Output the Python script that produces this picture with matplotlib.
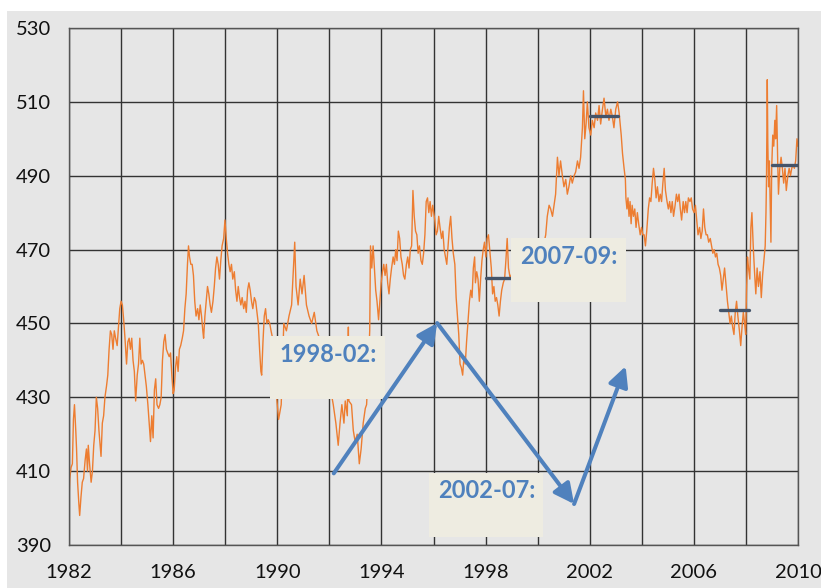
import numpy as np
import matplotlib
matplotlib.use("Agg")
import matplotlib.pyplot as plt
from matplotlib.patches import Rectangle

plt.rcParams['font.family'] = ['Lato', 'DejaVu Sans']

# ---------------------------------------------------------------
# series (decimal year, value)
# ---------------------------------------------------------------
year = [
    1982.00, 1982.03, 1982.08, 1982.13, 1982.17, 1982.21, 1982.26, 1982.29, 1982.33, 1982.38,
    1982.41, 1982.46, 1982.51, 1982.56, 1982.62, 1982.67, 1982.71, 1982.74, 1982.79, 1982.85,
    1982.90, 1982.95, 1983.00, 1983.05, 1983.10, 1983.15, 1983.21, 1983.23, 1983.28, 1983.33,
    1983.38, 1983.44, 1983.49, 1983.54, 1983.59, 1983.64, 1983.69, 1983.74, 1983.79, 1983.85,
    1983.90, 1983.95, 1984.00, 1984.05, 1984.10, 1984.15, 1984.21, 1984.26, 1984.31, 1984.36,
    1984.41, 1984.46, 1984.51, 1984.56, 1984.62, 1984.67, 1984.72, 1984.77, 1984.82, 1984.87,
    1984.92, 1984.97, 1985.03, 1985.08, 1985.13, 1985.18, 1985.23, 1985.28, 1985.33, 1985.38,
    1985.44, 1985.49, 1985.54, 1985.59, 1985.64, 1985.69, 1985.74, 1985.79, 1985.85, 1985.90,
    1985.95, 1986.00,
    1986.04, 1986.09, 1986.14, 1986.19, 1986.24, 1986.29, 1986.35, 1986.40, 1986.45, 1986.50,
    1986.55, 1986.59, 1986.63, 1986.68, 1986.73, 1986.78, 1986.83, 1986.88, 1986.94, 1986.99,
    1987.04, 1987.09, 1987.14, 1987.17, 1987.22, 1987.27, 1987.32, 1987.37, 1987.42, 1987.47,
    1987.53, 1987.58, 1987.63, 1987.68, 1987.73, 1987.78, 1987.83, 1987.88, 1987.94, 1987.99,
    1988.04, 1988.09, 1988.14, 1988.19, 1988.24, 1988.29, 1988.35, 1988.40, 1988.45, 1988.50,
    1988.55, 1988.60, 1988.65, 1988.71, 1988.76, 1988.81, 1988.86, 1988.91, 1988.96, 1989.01,
    1989.06, 1989.12, 1989.17, 1989.22, 1989.27, 1989.32, 1989.37, 1989.40, 1989.45, 1989.50,
    1989.55, 1989.60, 1989.65, 1989.71, 1989.76, 1989.85, 1989.95, 1990.05, 1990.15, 1990.25,
    1990.35, 1990.45, 1990.55, 1990.67, 1990.72, 1990.80, 1990.88, 1990.95, 1991.03, 1991.12,
    1991.22, 1991.32, 1991.42, 1991.52, 1991.62, 1991.72, 1991.82, 1991.92, 1992.02, 1992.10,
    1992.15, 1992.25, 1992.34, 1992.41, 1992.48, 1992.56, 1992.61, 1992.69, 1992.73, 1992.75,
    1992.85, 1992.92, 1992.99, 1993.07, 1993.15, 1993.22, 1993.30, 1993.38, 1993.43, 1993.49,
    1993.55, 1993.58, 1993.63, 1993.68, 1993.73, 1993.78, 1993.83, 1993.89, 1993.94, 1993.99,
    1994.04, 1994.09, 1994.14, 1994.19, 1994.24, 1994.29, 1994.34, 1994.39, 1994.45, 1994.50,
    1994.55, 1994.60, 1994.65, 1994.70, 1994.75, 1994.80, 1994.85, 1994.90, 1994.96, 1995.01,
    1995.06, 1995.11, 1995.16, 1995.21, 1995.26, 1995.31, 1995.36, 1995.41, 1995.46, 1995.52,
    1995.57, 1995.62, 1995.67, 1995.72, 1995.77, 1995.82, 1995.87, 1995.92, 1995.97,
    1996.05, 1996.10, 1996.15, 1996.20, 1996.25, 1996.31, 1996.36, 1996.41, 1996.46, 1996.51,
    1996.56, 1996.61, 1996.66, 1996.71, 1996.76, 1996.82, 1996.87, 1996.92, 1996.97, 1997.02,
    1997.07, 1997.12, 1997.17, 1997.22, 1997.27, 1997.32, 1997.38, 1997.43, 1997.48, 1997.53,
    1997.58, 1997.61, 1997.66, 1997.71, 1997.76, 1997.81, 1997.86, 1997.91, 1997.96, 1998.01,
    1998.06, 1998.11, 1998.17, 1998.22, 1998.27, 1998.32, 1998.37, 1998.42, 1998.47, 1998.52,
    1998.57, 1998.62, 1998.68, 1998.73, 1998.78, 1998.83, 1998.88, 1998.95, 1999.10, 1999.30,
    1999.50, 1999.70, 1999.90, 2000.10, 2000.25, 2000.31, 2000.37, 2000.44, 2000.50, 2000.57,
    2000.63, 2000.69, 2000.76, 2000.82, 2000.88, 2000.95, 2001.01, 2001.08, 2001.14, 2001.20,
    2001.27, 2001.33, 2001.40, 2001.46, 2001.53, 2001.59, 2001.65, 2001.72, 2001.76, 2001.81,
    2001.86, 2001.91, 2001.97, 2002.04, 2002.10, 2002.17, 2002.23, 2002.30, 2002.36, 2002.42,
    2002.49, 2002.55, 2002.62, 2002.68, 2002.74, 2002.81, 2002.87, 2002.93, 2003.00, 2003.07,
    2003.13, 2003.21, 2003.26, 2003.32, 2003.37, 2003.39, 2003.43, 2003.47, 2003.51, 2003.55,
    2003.59, 2003.63, 2003.68, 2003.73, 2003.78, 2003.83, 2003.88, 2003.94, 2003.99, 2004.04,
    2004.09, 2004.14, 2004.19, 2004.25, 2004.30, 2004.35, 2004.40, 2004.45, 2004.50, 2004.55,
    2004.60, 2004.66, 2004.71, 2004.76, 2004.81, 2004.86, 2004.91, 2004.97, 2005.02, 2005.07,
    2005.12, 2005.17, 2005.22, 2005.28, 2005.33, 2005.38, 2005.43, 2005.48, 2005.53, 2005.59,
    2005.64, 2005.69, 2005.74, 2005.79, 2005.85, 2005.90, 2005.95, 2006.01, 2006.06, 2006.11,
    2006.16, 2006.22, 2006.27, 2006.32, 2006.37, 2006.42, 2006.47, 2006.52, 2006.57, 2006.63,
    2006.68, 2006.73, 2006.78, 2006.83, 2006.88, 2006.93, 2006.98, 2007.03, 2007.08, 2007.13,
    2007.18, 2007.24, 2007.29, 2007.34, 2007.39, 2007.44, 2007.49, 2007.54, 2007.59, 2007.64,
    2007.69, 2007.75, 2007.80, 2007.85, 2007.90, 2007.95, 2007.99, 2008.02, 2008.06, 2008.10,
    2008.15, 2008.19, 2008.23, 2008.28, 2008.33, 2008.38, 2008.43, 2008.48, 2008.54, 2008.59,
    2008.64, 2008.69, 2008.74, 2008.77, 2008.79, 2008.82, 2008.84, 2008.87, 2008.90, 2008.93,
    2008.96, 2008.99, 2009.03, 2009.07, 2009.11, 2009.14, 2009.18, 2009.22, 2009.25, 2009.30,
    2009.35, 2009.40, 2009.45, 2009.50, 2009.55, 2009.61, 2009.66, 2009.71, 2009.76, 2009.81,
    2009.86, 2009.91, 2009.96, 2010.00,
]

value = [
    402, 408, 411, 412, 424, 428, 421, 416, 407, 401,
    398, 403, 407, 408, 413, 416, 410, 417, 412, 407,
    410, 417, 421, 430, 427, 421, 416, 414, 423, 425,
    430, 433, 436, 443, 448, 447, 443, 448, 446, 444,
    449, 454, 456, 455, 451, 446, 439, 445, 446, 443,
    446, 440, 437, 429, 436, 439, 446, 439, 440, 439,
    436, 433, 428, 423, 418, 425, 419, 432, 435, 428,
    427, 428, 430, 440, 445, 447, 443, 442, 441, 442,
    436, 431,
    432, 438, 441, 437, 443, 444, 446, 448, 454, 458,
    466, 471, 468, 466, 466, 463, 456, 452, 454, 451,
    455, 452, 448, 446, 452, 456, 460, 458, 455, 453,
    456, 460, 465, 468, 466, 462, 467, 471, 473, 478,
    473, 469, 466, 464, 466, 462, 464, 459, 456, 460,
    457, 455, 457, 454, 456, 453, 459, 461, 459, 456,
    454, 457, 456, 453, 450, 443, 437, 436, 445, 452,
    454, 450, 451, 450, 448, 445, 432, 424, 428, 450,
    448, 452, 455, 472, 460, 455, 462, 458, 463, 455,
    452, 450, 453, 448, 446, 440, 436, 432, 434, 430,
    428, 423, 417, 423, 428, 423, 429, 425, 449, 429,
    428, 421, 418, 420, 412, 416, 423, 427, 428, 437,
    448, 471, 465, 471, 465, 459, 456, 451, 456, 461,
    464, 466, 463, 466, 461, 458, 462, 465, 468, 466,
    470, 467, 475, 473, 468, 466, 463, 462, 466, 468,
    465, 470, 471, 486, 479, 475, 474, 469, 471, 467,
    466, 469, 474, 483, 484, 480, 483, 479, 482,
    478, 474, 475, 479, 476, 473, 475, 470, 468, 466,
    471, 476, 479, 473, 469, 466, 457, 452, 447, 439,
    438, 436, 441, 439, 445, 450, 456, 459, 457, 465,
    468, 461, 464, 462, 456, 462, 467, 470, 472, 468,
    473, 474, 469, 465, 458, 460, 456, 457, 455, 452,
    456, 459, 461, 462, 467, 473, 465, 462, 466, 463,
    467, 465, 470, 468, 472, 474, 479, 482, 481, 479,
    482, 485, 495, 490, 494, 490, 487, 489, 485, 487,
    490, 488, 490, 491, 494, 492, 495, 503, 513, 500,
    504, 510, 503, 501, 505, 503, 507, 505, 509, 504,
    508, 511, 506, 508, 505, 508, 506, 503, 508, 510,
    507, 501, 496, 492, 489, 484, 481, 484, 479, 483,
    477, 482, 479, 481, 476, 480, 477, 474, 476, 474,
    474, 471, 475, 481, 484, 483, 488, 492, 489, 484,
    487, 483, 485, 483, 488, 492, 486, 483, 481, 483,
    480, 483, 479, 482, 485, 483, 485, 481, 478, 483,
    480, 483, 480, 484, 483, 484, 481, 480, 482, 478,
    474, 476, 473, 475, 481, 476, 474, 474, 472, 473,
    471, 469, 470, 468, 469, 466, 465, 463, 459, 462,
    465, 460, 456, 453, 450, 452, 449, 447, 453, 456,
    452, 448, 444, 449, 453, 450, 447, 458, 468, 465,
    462, 476, 480, 471, 464, 458, 465, 460, 464, 457,
    463, 467, 471, 480, 489, 516, 499, 487, 494, 483,
    472, 492, 501, 498, 505, 500, 509, 494, 485, 492,
    495, 492, 488, 492, 486, 490, 492, 490, 492, 493,
    492, 494, 500, 498,
]

# period averages (dark bars)
avg_start = [1998.0, 2002.0, 2007.0, 2009.0]
avg_end = [1999.1, 2003.1, 2008.1, 2010.0]
avg_level = [462.2, 506.2, 453.7, 493.0]

# label boxes
box_labels = ['1998-02:', '2002-07:', '2007-09:']

x_ticks = list(range(1982, 2011, 4))
y_ticks = list(range(390, 531, 20))

# ---------------------------------------------------------------
fig = plt.figure(figsize=(8.21, 5.88), dpi=100)
fig.patch.set_facecolor('white')
fig.add_artist(Rectangle((7 / 821, 0), 1, 1 - 11 / 588, transform=fig.transFigure,
                         facecolor='#e6e6e6', edgecolor='none', zorder=0))

ax = fig.add_axes([69 / 821, 43 / 588, 729 / 821, 517 / 588])
ax.set_facecolor('#e6e6e6')

ax.plot(year, value, color='#ED7D31', linewidth=1.0, zorder=2)

for x0, x1, lev in zip(avg_start, avg_end, avg_level):
    ax.plot([x0, x1], [lev, lev], color='#44546A', linewidth=2.4,
            solid_capstyle='round', zorder=3)

# text boxes: (left, bottom, right, top) in data units
box_extent = [(1989.73, 429.5, 1994.12, 446.5),
              (1995.81, 392.2, 2000.19, 409.5),
              (1998.96, 455.7, 2003.38, 473.0)]
for lab, (l, b, r, t) in zip(box_labels, box_extent):
    ax.add_patch(Rectangle((l, b), r - l, t - b, facecolor='#EEECE1',
                           edgecolor='none', zorder=4))
    ax.text(l + 0.36, t - 4.8, lab, ha='left', va='center', color='#4F81BD',
            fontsize=17, fontweight='bold', zorder=5)

# arrows
arrow_pts = [((1992.17, 409.4), (1996.14, 450.1)),
             ((1996.14, 450.1), (2001.40, 401.1)),
             ((2001.40, 401.1), (2003.38, 438.4))]
for (p0, p1) in arrow_pts:
    ax.annotate('', xy=p1, xytext=p0,
                arrowprops=dict(arrowstyle='-|>,head_length=0.6,head_width=0.3',
                                color='#4F81BD', lw=2.9, shrinkA=0, shrinkB=0,
                                mutation_scale=20),
                zorder=6)

ax.set_xlim(1982, 2010)
ax.set_ylim(390, 530)
ax.set_xticks(x_ticks)
ax.set_xticks(list(range(1984, 2010, 4)), minor=True)
ax.set_yticks(y_ticks)
ax.grid(True, which='both', color='#333333', linewidth=1.0, zorder=1)
ax.set_axisbelow(True)
for s in ax.spines.values():
    s.set_color('#555555')
    s.set_linewidth(1.0)
ax.tick_params(which='both', length=0, labelcolor='#111111')
ax.tick_params(axis='y', pad=13, labelsize=14.5)
ax.tick_params(axis='x', pad=14, labelsize=14.5)

fig.savefig('out.png', dpi=100)
